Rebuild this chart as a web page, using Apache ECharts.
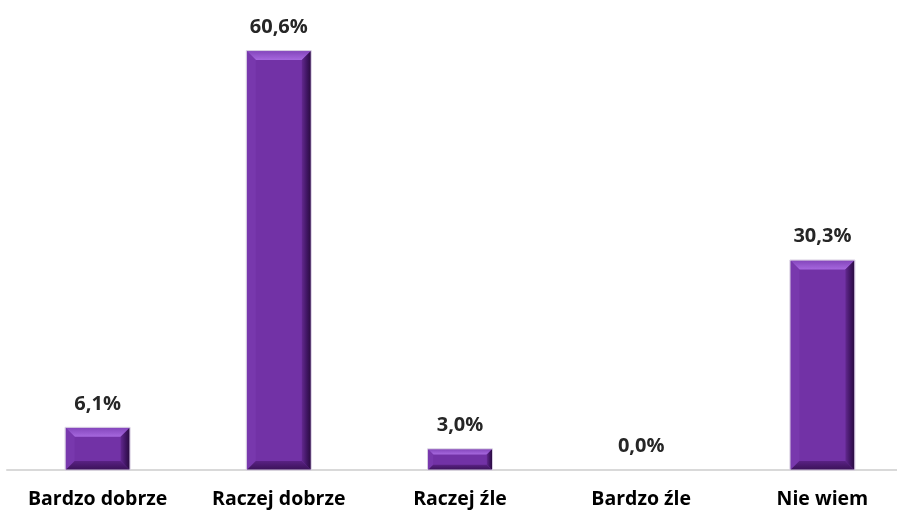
<!DOCTYPE html>
<html><head><meta charset="utf-8">
<script src="https://cdn.jsdelivr.net/npm/echarts@6/dist/echarts.min.js"></script>
<style>html,body{margin:0;padding:0;background:#fff}#c{width:897px;height:511px}</style>
</head><body><div id="c"></div>
<script>
const categories = ['Bardzo dobrze', 'Raczej dobrze', 'Raczej źle', 'Bardzo źle', 'Nie wiem'];
const values = [6.1, 60.6, 3.0, 0.0, 30.3];

const chart = echarts.init(document.getElementById('c'));
const fmt = v => v.toFixed(1).replace('.', ',') + '%';
const FONT = '"Open Sans", "Noto Sans", sans-serif';

function renderBevel(params, api) {
  const idx = api.value(0);
  const val = api.value(1);
  const top = api.coord([idx, val]);
  const base = api.coord([idx, 0]);
  const bw = 64;
  const x0 = top[0] - bw / 2, x1 = top[0] + bw / 2;
  const y0 = top[1], y1 = base[1];
  const h = y1 - y0;
  if (h < 1) return null;
  const b = Math.min(9, h / 4);
  const poly = (pts, fill) => ({ type: 'polygon', shape: { points: pts }, style: { fill: fill } });
  return {
    type: 'group',
    children: [
      { type: 'rect', shape: { x: x0, y: y0, width: bw, height: h }, style: { fill: '#7232a6' } },
      poly([[x0, y0], [x1, y0], [x1 - b, y0 + b], [x0 + b, y0 + b]],
        new echarts.graphic.LinearGradient(0, 0, 0, 1, [{ offset: 0, color: '#8446bc' }, { offset: 1, color: '#a668de' }])),
      poly([[x0, y0], [x0 + b, y0 + b], [x0 + b, y1 - b], [x0, y1]], '#7838ad'),
      poly([[x1, y0], [x1, y1], [x1 - b, y1 - b], [x1 - b, y0 + b]],
        new echarts.graphic.LinearGradient(0, 0, 1, 0, [{ offset: 0, color: '#62288f' }, { offset: 0.6, color: '#3e1460' }, { offset: 1, color: '#2a0c40' }])),
      poly([[x0, y1], [x0 + b, y1 - b], [x1 - b, y1 - b], [x1, y1]],
        new echarts.graphic.LinearGradient(0, 0, 0, 1, [{ offset: 0, color: '#5a2284' }, { offset: 1, color: '#3a1258' }])),
      { type: 'rect', shape: { x: x0 - 0.5, y: y0 - 0.5, width: bw + 1, height: h + 0.5 },
        style: { fill: null, stroke: '#d6cce0', lineWidth: 1 } }
    ]
  };
}

chart.setOption({
  animation: false,
  grid: { left: 7, width: 906, top: 40, bottom: 41, containLabel: false, outerBoundsMode: 'none' },
  xAxis: {
    type: 'category',
    data: categories,
    axisLine: { show: true, lineStyle: { color: '#d9d9d9', width: 2 } },
    axisTick: { show: false },
    axisLabel: { color: '#000', fontFamily: FONT, fontWeight: 'bold', fontSize: 19.5, margin: 19, interval: 0 }
  },
  yAxis: {
    type: 'value', min: 0, max: 62.2,
    show: false, splitLine: { show: false }
  },
  series: [
    {
      type: 'custom',
      renderItem: renderBevel,
      data: values.map((v, i) => [i, v]),
      encode: { x: 0, y: 1 },
      z: 2
    },
    {
      type: 'bar',
      data: values,
      barWidth: 64,
      itemStyle: { color: 'rgba(0,0,0,0)' },
      label: {
        show: true, position: 'top', distance: 14,
        formatter: p => fmt(p.value),
        color: '#262626', fontFamily: FONT, fontWeight: 'bold', fontSize: 20
      },
      z: 3
    }
  ]
});
</script></body></html>
